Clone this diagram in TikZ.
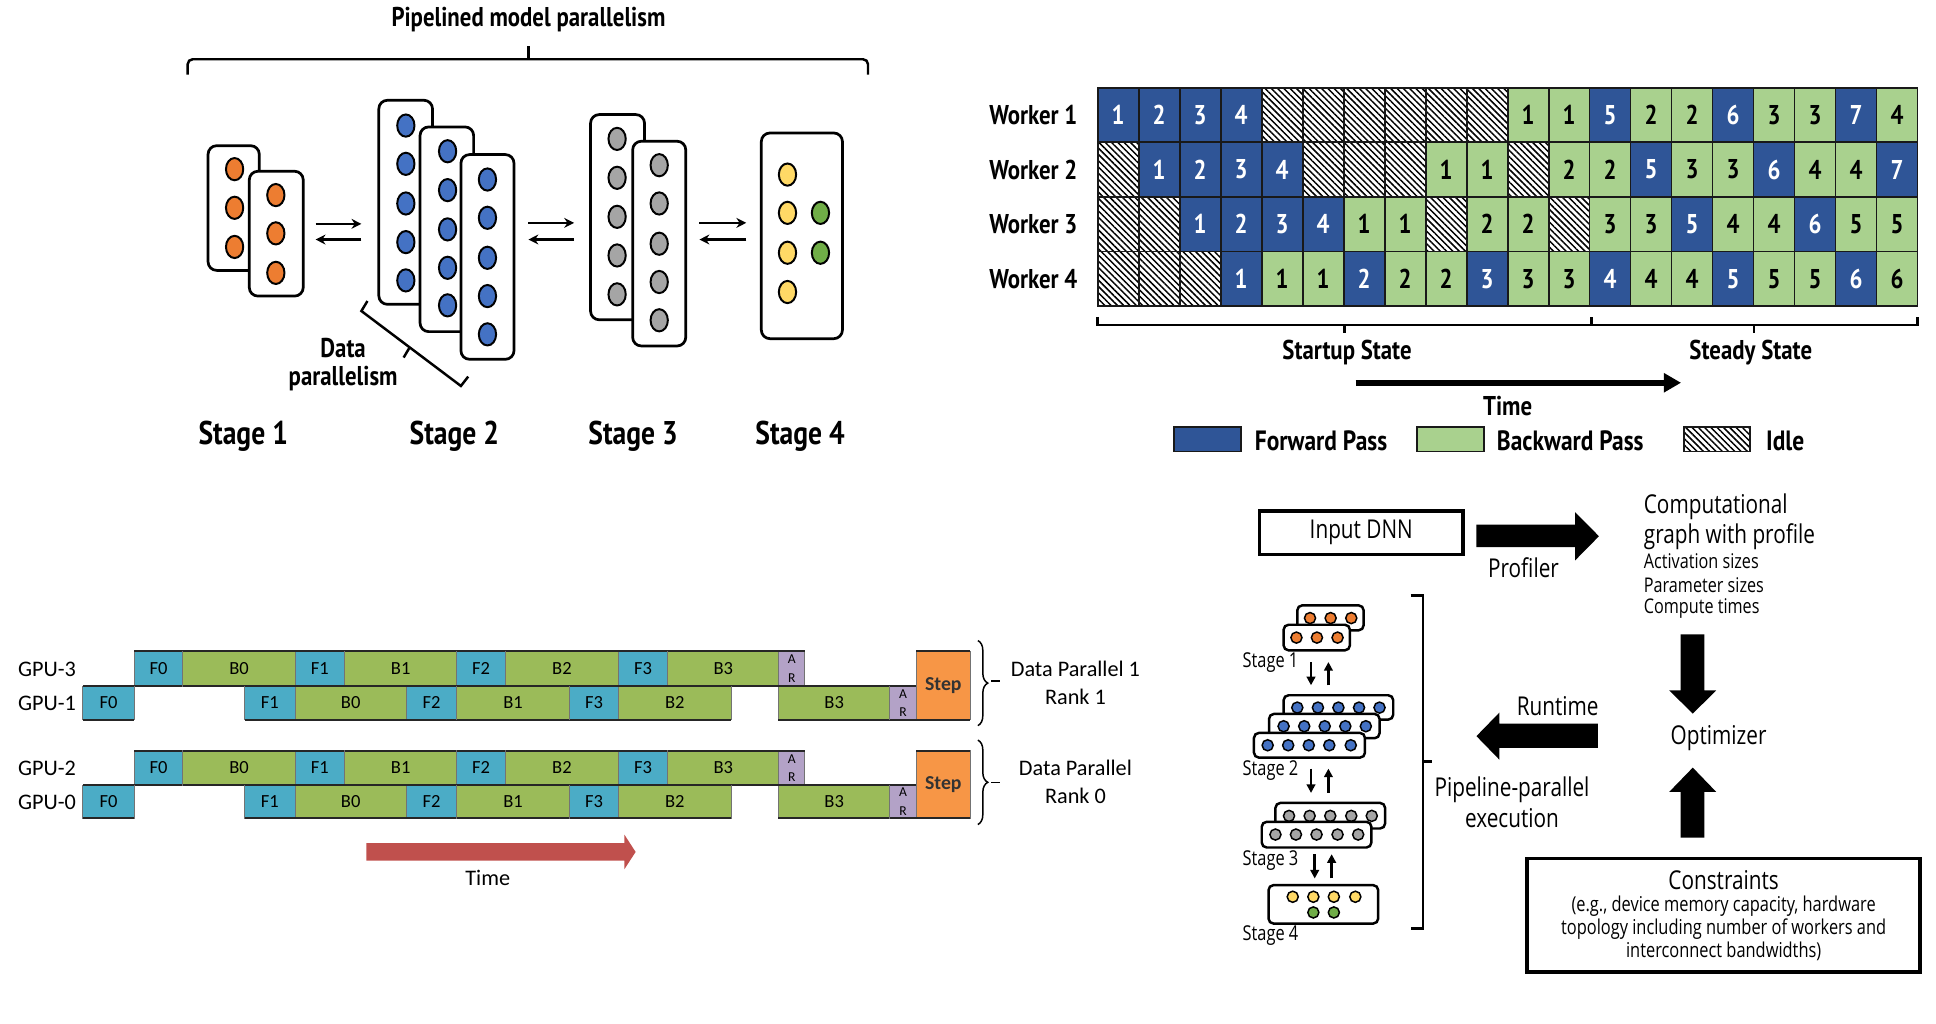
\documentclass[tikz,border=0pt]{standalone}
\usepackage{fontspec}
\setmainfont{Liberation Sans}
\newfontfamily\bcn[FakeStretch=0.84]{PT Sans}
\newfontfamily\calfont{Carlito}
\newfontfamily\rcn[FakeStretch=0.8]{Open Sans}
\usetikzlibrary{arrows.meta,patterns.meta,decorations.pathreplacing}
\definecolor{nnorange}{HTML}{ED7D31}
\definecolor{nnblue}{HTML}{4472C4}
\definecolor{nngray}{HTML}{A5A5A5}
\definecolor{nnyellow}{HTML}{FFD966}
\definecolor{nngreen}{HTML}{70AD47}
\definecolor{fwd}{HTML}{2F5597}
\definecolor{bwd}{HTML}{A9D18E}
\definecolor{gF}{HTML}{4BACC6}
\definecolor{gB}{HTML}{9BBB59}
\definecolor{gAR}{HTML}{B3A2C7}
\definecolor{gStep}{HTML}{F79646}
\definecolor{tred}{HTML}{C0504D}
\newcommand\boxat[6]{\node[#1,minimum width={(#5-#3)*0.5pt},minimum height={(#6-#4)*0.5pt}] (#2) at ({(#3+#5)/2},{(#4+#6)/2}) {};}
\newcommand\gblk[7]{\node[#6,minimum width={(#3-#2)*0.5pt},minimum height={(#5-#4)*0.5pt}] (#1) at ({(#2+#3)/2},{(#4+#5)/2}) {#7};
  \draw[blkedge] (#1.north west)--(#1.north east) (#1.south west)--(#1.south east);}
\newcommand\gpurowA[3]{%
\gblk{#1f0}{108.6}{148.2}{#2}{#3}{gf}{F0}
\gblk{#1b0}{148.2}{239}{#2}{#3}{gb}{B0}
\gblk{#1f1}{239}{279.2}{#2}{#3}{gf}{F1}
\gblk{#1b1}{279.2}{369.9}{#2}{#3}{gb}{B1}
\gblk{#1f2}{369.9}{409.5}{#2}{#3}{gf}{F2}
\gblk{#1b2}{409.5}{500.8}{#2}{#3}{gb}{B2}
\gblk{#1f3}{500.8}{541}{#2}{#3}{gf}{F3}
\gblk{#1b3}{541}{630.5}{#2}{#3}{gb}{B3}
\gblk{#1ar}{630.5}{651.9}{#2}{#3}{gar}{A\\R}}
\newcommand\gpurowB[3]{%
\gblk{#1f0}{67.2}{108.6}{#2}{#3}{gf}{F0}
\gblk{#1f1}{198.2}{239}{#2}{#3}{gf}{F1}
\gblk{#1b0}{239}{329.1}{#2}{#3}{gb}{B0}
\gblk{#1f2}{329.1}{369.9}{#2}{#3}{gf}{F2}
\gblk{#1b1}{369.9}{461.3}{#2}{#3}{gb}{B1}
\gblk{#1f3}{461.3}{500.8}{#2}{#3}{gf}{F3}
\gblk{#1b2}{500.8}{592.2}{#2}{#3}{gb}{B2}
\gblk{#1b3}{630.5}{720.7}{#2}{#3}{gb}{B3}
\gblk{#1ar}{720.7}{742}{#2}{#3}{gar}{A\\R}}
\begin{document}
\begin{tikzpicture}[x=0.5pt,y=-0.5pt,
  nnbox/.style={draw=black,line width=1.1pt,fill=white,rounded corners=3.5pt,inner sep=0pt,outer sep=0pt},
  nn/.style={draw=black,line width=0.8pt},
  sbox/.style={draw=black,line width=1pt,fill=white,rounded corners=2pt,inner sep=0pt,outer sep=0pt},
  sn/.style={draw=black,line width=0.6pt},
  bold/.style={font=\bcn\bfseries\fontsize{11}{13}\selectfont,inner sep=0pt},
  legtext/.style={font=\bcn\bfseries\fontsize{11.3}{13}\selectfont,inner sep=0pt},
  stagelab/.style={font=\bcn\bfseries\fontsize{13.3}{15}\selectfont,inner sep=0pt},
  thinarrow/.style={line width=1pt,-{Stealth[length=4pt,width=4pt]}},
  cellbase/.style={draw=black!90,line width=0.75pt,minimum width=16.6pt,minimum height=22.125pt,inner sep=0pt,outer sep=0pt,font=\bcn\bfseries\fontsize{11}{13}\selectfont},
  fcell/.style={cellbase,fill=fwd,text=white},
  bcell/.style={cellbase,fill=bwd,text=black},
  icell/.style={cellbase,fill=white,pattern={Lines[angle=-45,distance=1.8pt,line width=0.6pt]}},
  gbase/.style={draw=black!55,line width=0.4pt,inner sep=0pt,outer sep=0pt,font=\calfont\fontsize{7.5}{8}\selectfont},
  gf/.style={gbase,fill=gF},
  gb/.style={gbase,fill=gB},
  gar/.style={gbase,fill=gAR,align=center,font=\calfont\fontsize{5.5}{7.5}\selectfont},
  gstep/.style={gbase,fill=gStep,font=\calfont\bfseries\fontsize{8}{9}\selectfont,text=black!80},
  blkedge/.style={draw=black!85,line width=0.9pt},
  glab/.style={font=\calfont\fontsize{9}{10}\selectfont,inner sep=0pt},
  rc/.style={font=\rcn\fontsize{10.5}{12}\selectfont,inner sep=0pt},
  rcs/.style={font=\rcn\fontsize{8.2}{9}\selectfont,inner sep=0pt},
  rcm/.style={font=\rcn\fontsize{8.3}{9}\selectfont,inner sep=0pt},
  rcstage/.style={font=\rcn\fontsize{8.3}{9}\selectfont,inner sep=0pt,anchor=west}]
\useasboundingbox (0,0) rectangle (1568,829);

% ================= Top-left: pipelined model parallelism =================
\node[bold] (title) at (428,16) {Pipelined model parallelism};
\draw[line width=1pt,rounded corners=2pt] (152,60.5) -- (152,48) -- (703,48) -- (703,60.5);
\draw[line width=1pt] (428,48) -- (428,37.6);

% Stage 1
\boxat{nnbox}{s1a}{168.5}{118}{210}{219}
\foreach \y in {137,168.3,200} \draw[nn,fill=nnorange] (190,\y) ellipse [x radius=7,y radius=9];
\boxat{nnbox}{s1b}{201.9}{138.7}{245.6}{239.8}
\foreach \y in {158,189,221} \draw[nn,fill=nnorange] (223.4,\y) ellipse [x radius=7,y radius=9];
% Stage 2
\boxat{nnbox}{s2a}{306.8}{81.2}{350.3}{246.5}
\foreach \y in {101.7,132.7,164.8,196.1,227.1} \draw[nn,fill=nnblue] (328.7,\y) ellipse [x radius=7,y radius=9];
\boxat{nnbox}{s2b}{340.2}{102.8}{383.6}{268.6}
\foreach \y in {122.5,154,185.8,216.9,247.3} \draw[nn,fill=nnblue] (362.5,\y) ellipse [x radius=7,y radius=9];
\boxat{nnbox}{s2c}{373.3}{125.2}{416.3}{291}
\foreach \y in {145.4,176.4,208.8,239.8,270.8} \draw[nn,fill=nnblue] (394.8,\y) ellipse [x radius=7,y radius=9];
% Stage 3
\boxat{nnbox}{s3a}{478.3}{92.8}{522}{259}
\foreach \y in {112.5,144,175.6,206.9,238.4} \draw[nn,fill=nngray] (499.8,\y) ellipse [x radius=7,y radius=9];
\boxat{nnbox}{s3b}{512.4}{114.4}{555.4}{280.2}
\foreach \y in {133.8,164.8,197.4,228.4,259.4} \draw[nn,fill=nngray] (533.9,\y) ellipse [x radius=7,y radius=9];
% Stage 4
\boxat{nnbox}{s4a}{616.6}{107.7}{682.3}{274.3}
\foreach \y in {141.4,172.4,204.7,236.5} \draw[nn,fill=nnyellow] (637.8,\y) ellipse [x radius=7,y radius=9];
\foreach \y in {172.4,204.7} \draw[nn,fill=nngreen] (664.5,\y) ellipse [x radius=7,y radius=9];

% arrows between stages
\coordinate (a12l) at (255.6,181.3); \coordinate (a12r) at (292.7,181.3);
\coordinate (b12l) at (255.6,194);   \coordinate (b12r) at (292.7,194);
\coordinate (a23l) at (428,180.5);   \coordinate (a23r) at (465,180.5);
\coordinate (b23l) at (428,194);     \coordinate (b23r) at (465,194);
\coordinate (a34l) at (566.5,180.5); \coordinate (a34r) at (604.4,180.5);
\coordinate (b34l) at (566.5,194);   \coordinate (b34r) at (604.4,194);
\draw[thinarrow] (a12l) -- (a12r);
\draw[thinarrow] (b12r) -- (b12l);
\draw[thinarrow] (a23l) -- (a23r);
\draw[thinarrow] (b23r) -- (b23l);
\draw[thinarrow] (a34l) -- (a34r);
\draw[thinarrow] (b34r) -- (b34l);

% data parallelism bracket
\draw[line width=1pt] (297.6,243.8) -- (292.7,251.9) -- (373.3,312.6) -- (379.2,305);
\draw[line width=1pt] (331.7,281.5) -- (326.9,289.6);
\node[bold] (dp1) at (277.9,281.5) {Data};
\node[bold] (dp2) at (277.9,307) {parallelism};

\node[stagelab] (st1) at (197,353) {Stage 1};
\node[stagelab] (st2) at (368,353) {Stage 2};
\node[stagelab] (st3) at (512.8,353) {Stage 3};
\node[stagelab] (st4) at (648,353) {Stage 4};

% ================= Top-right: worker schedule =================
\foreach \r in {1,...,4}
  \node[bold] (wl\r) at (837,{71+(\r-0.5)*44.25}) {Worker \r};
\foreach \c/\r/\n in {1/1/1,2/1/2,3/1/3,4/1/4,13/1/5,16/1/6,19/1/7,
  2/2/1,3/2/2,4/2/3,5/2/4,14/2/5,17/2/6,20/2/7,
  3/3/1,4/3/2,5/3/3,6/3/4,15/3/5,18/3/6,
  4/4/1,7/4/2,10/4/3,13/4/4,16/4/5,19/4/6}
  \node[fcell] (w\r c\c) at ({889+(\c-0.5)*33.2},{71+(\r-0.5)*44.25}) {\n};
\foreach \c/\r/\n in {11/1/1,12/1/1,14/1/2,15/1/2,17/1/3,18/1/3,20/1/4,
  9/2/1,10/2/1,12/2/2,13/2/2,15/2/3,16/2/3,18/2/4,19/2/4,
  7/3/1,8/3/1,10/3/2,11/3/2,13/3/3,14/3/3,16/3/4,17/3/4,19/3/5,20/3/5,
  5/4/1,6/4/1,8/4/2,9/4/2,11/4/3,12/4/3,14/4/4,15/4/4,17/4/5,18/4/5,20/4/6}
  \node[bcell] (w\r c\c) at ({889+(\c-0.5)*33.2},{71+(\r-0.5)*44.25}) {\n};
\foreach \c/\r in {5/1,6/1,7/1,8/1,9/1,10/1,1/2,6/2,7/2,8/2,11/2,1/3,2/3,9/3,12/3,1/4,2/4,3/4}
  \node[icell] (w\r c\c) at ({889+(\c-0.5)*33.2},{71+(\r-0.5)*44.25}) {};

% state braces
\draw[line width=1pt] (889,256.6) -- (889,263.2) -- (1553,263.2) -- (1553,256.6);
\draw[line width=1pt] (1288.9,263.2) -- (1288.9,256.6);
\draw[line width=1pt] (1089,263.2) -- (1089,269.9);
\draw[line width=1pt] (1420.7,263.2) -- (1420.7,269.9);
\node[bold] (startup) at (1091,285.5) {Startup State};
\node[bold] (steady) at (1418,285.5) {Steady State};
\coordinate (tA) at (1098,310); \coordinate (tB) at (1361.5,310);
\draw[line width=2.5pt,-{Triangle[length=7pt,width=7.5pt]}] (tA) -- (tB);
\node[bold] (time1) at (1221,328.5) {Time};

% legend
\boxat{fcell,minimum width=0pt,minimum height=0pt}{lgf}{950.7}{345.7}{1005}{365.7}
\node[legtext,anchor=west] (lgft) at (1016,357) {Forward Pass};
\boxat{bcell,minimum width=0pt,minimum height=0pt}{lgb}{1147.7}{345.7}{1202}{365.7}
\node[legtext,anchor=west] (lgbt) at (1212,357) {Backward Pass};
\boxat{icell,minimum width=0pt,minimum height=0pt}{lgi}{1364}{345.7}{1417.3}{365.7}
\node[legtext,anchor=west] (lgit) at (1430,357) {Idle};

% ================= Bottom-left: GPU schedule =================
\gpurowA{gt}{527.5}{555.7}
\gpurowB{go}{555.7}{583}
\gblk{stepA}{742}{786}{527.5}{583}{gstep}{Step}
\gpurowA{gw}{608.2}{635.8}
\gpurowB{gz}{635.8}{662.8}
\gblk{stepB}{742}{786}{608.2}{662.8}{gstep}{Step}

\node[glab] (gpu3) at (38,542) {GPU-3};
\node[glab] (gpu1) at (38,569.5) {GPU-1};
\node[glab] (gpu2) at (38,622.5) {GPU-2};
\node[glab] (gpu0) at (38,650) {GPU-0};

\draw[line width=0.6pt,decorate,decoration={brace,amplitude=4pt}] (792,518.8) -- (792,587.7);
\draw[line width=0.6pt] (803,551.6) -- (810,551.6);
\draw[line width=0.6pt,decorate,decoration={brace,amplitude=4pt}] (792,599.4) -- (792,667.8);
\draw[line width=0.6pt] (803,633.6) -- (810,633.6);
\node[glab] (dpa) at (871,542) {Data Parallel 1};
\node[glab] (dpb) at (871,564.4) {Rank 1};
\node[glab] (dpc) at (871,622) {Data Parallel};
\node[glab] (dpd) at (871,644.5) {Rank 0};

\fill[tred] (296.8,682.8) -- (505.7,682.8) -- (505.7,676) -- (514.8,690) -- (505.7,704) -- (505.7,697) -- (296.8,697) -- cycle;
\node[glab] (time2) at (395,711) {Time};

% ================= Bottom-right: PipeDream workflow =================
\node[draw,line width=1.5pt,minimum width=82.5pt,minimum height=17.5pt,inner sep=0pt,font=\rcn\fontsize{10.5}{12}\selectfont] (dnn) at (1102.5,431.5) {Input DNN};
\fill (1195.8,424.8) -- (1275.7,424.8) -- (1275.7,414.8) -- (1295,434.3) -- (1275.7,453.9) -- (1275.7,443.1) -- (1195.8,443.1) -- cycle;
\node[rc] (prof) at (1233.9,460) {Profiler};
\node[rc,anchor=west] (cg1) at (1331,410.8) {Computational};
\node[rc,anchor=west] (cg2) at (1331,434.5) {graph with profile};
\node[rcs,anchor=west] (cg3) at (1331,454.7) {Activation sizes};
\node[rcs,anchor=west] (cg4) at (1331,474) {Parameter sizes};
\node[rcs,anchor=west] (cg5) at (1331,493) {Compute times};
\fill (1361.2,513.8) -- (1380.4,513.8) -- (1380.4,559.1) -- (1390,559.1) -- (1371,578) -- (1351.9,559.1) -- (1361.2,559.1) -- cycle;
\node[rc] (opt) at (1391.9,597.4) {Optimizer};
\fill (1361.2,678.3) -- (1380.4,678.3) -- (1380.4,641.4) -- (1390,641.4) -- (1371,621.7) -- (1351.9,641.4) -- (1361.2,641.4) -- cycle;
\node[draw,line width=1.5pt,minimum width=159.25pt,minimum height=45.85pt,inner sep=0pt] (cons) at (1395.75,741.15) {};
\node[rc] (cons1) at (1396,712.8) {Constraints};
\node[rcm] (cons2) at (1396,734) {(e.g., device memory capacity, hardware};
\node[rcm] (cons3) at (1396,752.7) {topology including number of workers and};
\node[rcm] (cons4) at (1396,770.8) {interconnect bandwidths)};
\fill (1294.2,586) -- (1214.3,586) -- (1214.3,577.2) -- (1195.8,596.2) -- (1214.3,615.2) -- (1214.3,605.8) -- (1294.2,605.8) -- cycle;
\node[rc] (rt) at (1261.6,572) {Runtime};
\node[rc] (pp1) at (1224.6,640) {Pipeline-parallel};
\node[rc] (pp2) at (1224.6,663) {execution};
\draw[line width=1.2pt] (1142.5,482.2) -- (1152.5,482.2) -- (1152.5,752) -- (1142.5,752);
\draw[line width=1.2pt] (1152.5,617) -- (1159.9,617);

% stage stacks
\boxat{sbox}{p1a}{1050.7}{490.3}{1104.4}{510.5}
\foreach \x in {1061,1077.7,1094.4} \draw[sn,fill=nnorange] (\x,500.6) circle [radius=4.5];
\boxat{sbox}{p1b}{1039.6}{506}{1093.3}{526.7}
\foreach \x in {1050,1066.6,1083.3} \draw[sn,fill=nnorange] (\x,516.4) circle [radius=4.5];
\boxat{sbox}{p2a}{1039.6}{563.1}{1128.4}{582.8}
\foreach \x in {1050.7,1067.4,1084,1100.7,1117.3} \draw[sn,fill=nnblue] (\x,573.1) circle [radius=4.5];
\boxat{sbox}{p2b}{1027.8}{578.2}{1117.3}{597.9}
\foreach \x in {1039.6,1056.3,1072.9,1089.6,1106.2} \draw[sn,fill=nnblue] (\x,588.2) circle [radius=4.5];
\boxat{sbox}{p2c}{1015.6}{593.6}{1105.5}{613.6}
\foreach \x in {1026.7,1043.3,1060,1076.6,1094} \draw[sn,fill=nnblue] (\x,603.6) circle [radius=4.5];
\boxat{sbox}{p3a}{1033}{650.3}{1121.8}{671}
\foreach \x in {1044,1060.7,1077.4,1094.4,1111} \draw[sn,fill=nngray] (\x,660.8) circle [radius=4.5];
\boxat{sbox}{p3b}{1021.9}{665.6}{1110.7}{686.4}
\foreach \x in {1033,1049.6,1066.3,1083.3,1100} \draw[sn,fill=nngray] (\x,675.9) circle [radius=4.5];
\boxat{sbox}{p4a}{1027.4}{716.9}{1116.2}{748}
\foreach \x in {1047,1063.7,1080.3,1097.7} \draw[sn,fill=nnyellow] (\x,726.3) circle [radius=4.5];
\foreach \x in {1063.7,1080.3} \draw[sn,fill=nngreen] (\x,739) circle [radius=4.5];

\node[rcstage] (ps1) at (1006,537) {Stage 1};
\node[rcstage] (ps2) at (1006,623.8) {Stage 2};
\node[rcstage] (ps3) at (1006,696.6) {Stage 3};
\node[rcstage] (ps4) at (1006,757.3) {Stage 4};

\coordinate (d1a) at (1061.8,536.2); \coordinate (d1b) at (1061.8,555);
\coordinate (u1a) at (1075.9,555);   \coordinate (u1b) at (1075.9,536.2);
\coordinate (d2a) at (1061.8,622.5); \coordinate (d2b) at (1061.8,642.2);
\coordinate (u2a) at (1075.9,642.2); \coordinate (u2b) at (1075.9,622.5);
\coordinate (d3a) at (1064.8,691.8); \coordinate (d3b) at (1064.8,711.5);
\coordinate (u3a) at (1078.5,711.5); \coordinate (u3b) at (1078.5,691.8);
\foreach \p in {1,2,3} {
  \draw[line width=1pt,-{Triangle[length=3.5pt,width=3.5pt]}] (d\p a) -- (d\p b);
  \draw[line width=1pt,-{Triangle[length=3.5pt,width=3.5pt]}] (u\p a) -- (u\p b);
}
\end{tikzpicture}
\end{document}
